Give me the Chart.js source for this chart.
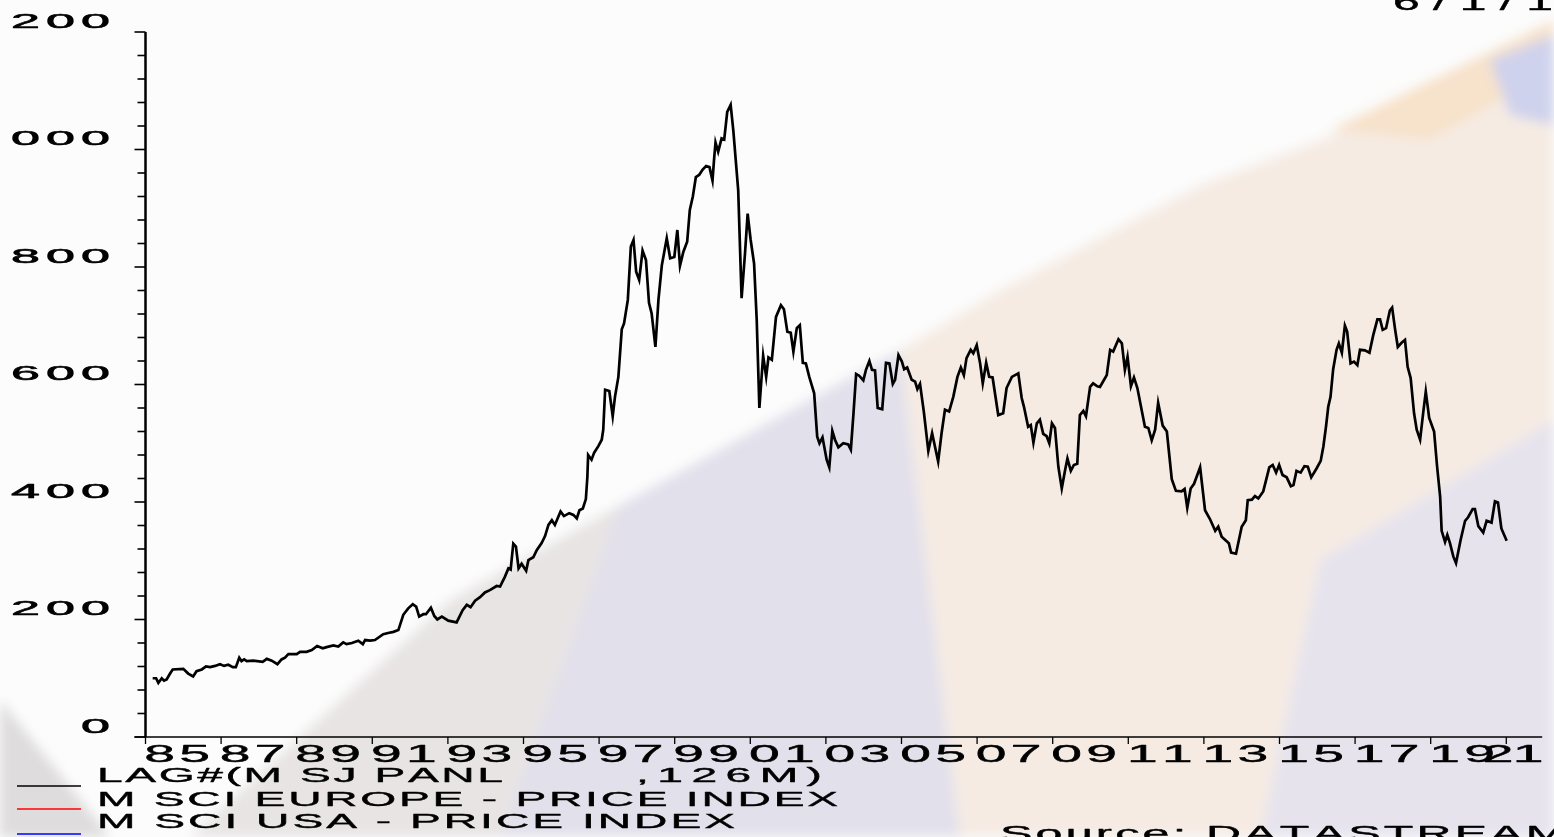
<!DOCTYPE html>
<html>
<head>
<meta charset="utf-8">
<script src="https://cdn.jsdelivr.net/npm/chart.js@4.4.1/dist/chart.umd.min.js"></script>
<style>
html,body{margin:0;padding:0;width:1554px;height:837px;overflow:hidden;background:#fcfcfc;}
#bg{position:absolute;left:0;top:0;}
#wrap{position:absolute;left:0;top:0;width:1554px;height:837px;}
</style>
</head>
<body>
<svg id="bg" width="1554" height="837" xmlns="http://www.w3.org/2000/svg">
<defs><filter id="b" x="-10%" y="-10%" width="120%" height="120%"><feGaussianBlur stdDeviation="6"/></filter></defs>
<rect width="1554" height="837" fill="#fcfcfc"/>
<g filter="url(#b)">
<polygon points="0,700 110,837 0,837" fill="#dedcdd"/>
<polygon points="190,837 450,600 620,505 520,837" fill="#e8e4e4"/>
<polygon points="500,837 620,505 800,405 900,350 960,837" fill="#e2e0eb"/>
<polygon points="900,350 1000,290 1200,185 1400,110 1554,40 1554,420 1320,560 1260,837 960,837" fill="#f5ebe3"/>
<polygon points="1320,560 1554,420 1554,837 1260,837" fill="#e6e3ed"/>
<polygon points="1330,130 1554,20 1554,70 1430,140" fill="#f7e2cb"/>
<polygon points="1490,60 1554,35 1554,125 1510,115" fill="#cfd2ec"/>
</g>
</svg>
<div id="wrap"><canvas id="c" width="1554" height="837"></canvas></div>
<script>
// ---- data ----
const dates = [1985.19,1985.28,1985.34,1985.43,1985.49,1985.56,1985.65,1985.72,1986.00,1986.13,1986.26,1986.35,1986.49,1986.60,1986.71,1986.84,1986.97,1987.08,1987.19,1987.31,1987.39,1987.48,1987.54,1987.61,1987.68,1987.85,1988.10,1988.21,1988.34,1988.49,1988.60,1988.69,1988.78,1989.00,1989.09,1989.26,1989.40,1989.54,1989.69,1989.79,1989.97,1990.10,1990.23,1990.32,1990.46,1990.63,1990.75,1990.81,1990.94,1991.07,1991.29,1991.42,1991.56,1991.69,1991.82,1991.95,1992.07,1992.16,1992.24,1992.35,1992.42,1992.55,1992.64,1992.72,1992.84,1993.01,1993.23,1993.39,1993.50,1993.60,1993.72,1993.85,1993.98,1994.11,1994.29,1994.38,1994.51,1994.60,1994.66,1994.73,1994.80,1994.87,1994.95,1995.07,1995.13,1995.26,1995.35,1995.48,1995.57,1995.66,1995.75,1995.83,1995.98,1996.07,1996.21,1996.32,1996.41,1996.48,1996.57,1996.65,1996.69,1996.71,1996.80,1996.87,1996.98,1997.07,1997.11,1997.16,1997.27,1997.36,1997.42,1997.51,1997.60,1997.66,1997.76,1997.84,1997.91,1997.98,1998.06,1998.15,1998.24,1998.32,1998.39,1998.49,1998.57,1998.66,1998.79,1998.88,1998.99,1999.07,1999.14,1999.23,1999.33,1999.40,1999.48,1999.56,1999.65,1999.74,1999.83,1999.92,2000.00,2000.04,2000.08,2000.15,2000.24,2000.31,2000.39,2000.48,2000.55,2000.68,2000.77,2000.86,2000.93,2001.01,2001.10,2001.17,2001.24,2001.34,2001.42,2001.48,2001.57,2001.68,2001.81,2001.89,2001.98,2002.07,2002.14,2002.23,2002.31,2002.39,2002.47,2002.56,2002.69,2002.77,2002.83,2002.91,2003.02,2003.09,2003.17,2003.24,2003.33,2003.46,2003.59,2003.66,2003.73,2003.80,2003.88,2003.99,2004.06,2004.15,2004.22,2004.30,2004.37,2004.49,2004.59,2004.68,2004.77,2004.83,2004.92,2005.01,2005.07,2005.15,2005.27,2005.36,2005.42,2005.49,2005.59,2005.71,2005.81,2005.97,2006.06,2006.15,2006.26,2006.37,2006.48,2006.57,2006.65,2006.72,2006.83,2006.90,2006.99,2007.08,2007.15,2007.24,2007.32,2007.41,2007.56,2007.69,2007.78,2007.92,2008.09,2008.18,2008.24,2008.35,2008.42,2008.49,2008.58,2008.66,2008.75,2008.84,2008.91,2008.98,2009.06,2009.15,2009.24,2009.33,2009.39,2009.48,2009.56,2009.65,2009.72,2009.81,2009.88,2009.99,2010.07,2010.18,2010.25,2010.36,2010.43,2010.52,2010.60,2010.74,2010.83,2010.91,2010.98,2011.07,2011.15,2011.24,2011.44,2011.53,2011.62,2011.71,2011.79,2011.91,2012.02,2012.15,2012.26,2012.41,2012.49,2012.56,2012.65,2012.74,2012.90,2013.03,2013.16,2013.30,2013.38,2013.47,2013.66,2013.72,2013.85,2014.00,2014.11,2014.16,2014.27,2014.35,2014.44,2014.57,2014.73,2014.82,2014.91,2014.99,2015.08,2015.19,2015.30,2015.37,2015.45,2015.56,2015.66,2015.75,2015.84,2015.98,2016.09,2016.16,2016.23,2016.29,2016.35,2016.42,2016.51,2016.57,2016.65,2016.73,2016.79,2016.88,2016.97,2017.06,2017.13,2017.26,2017.38,2017.48,2017.59,2017.66,2017.73,2017.82,2017.92,2017.98,2018.06,2018.13,2018.23,2018.32,2018.39,2018.47,2018.56,2018.63,2018.72,2018.80,2018.87,2018.96,2019.09,2019.17,2019.25,2019.29,2019.38,2019.44,2019.51,2019.60,2019.67,2019.79,2019.91,2019.99,2020.11,2020.17,2020.26,2020.39,2020.48,2020.61,2020.70,2020.78,2020.87,2021.01];
const japanLag126 = [100,100,92,100,96,98,108,115,116,108,103,112,115,120,119,121,124,121,123,119,119,135,129,132,129,130,128,133,130,124,132,135,141,141,145,145,148,155,151,153,156,154,161,158,160,164,158,165,164,165,175,177,179,182,208,219,226,222,205,209,209,220,206,200,205,198,195,216,225,221,232,238,246,250,257,256,273,287,285,329,324,287,295,283,301,306,318,330,342,361,369,361,384,376,381,378,372,386,389,405,443,480,472,484,495,506,523,591,589,546,579,613,694,704,744,835,846,792,778,828,812,739,721,664,744,803,849,815,817,863,802,826,843,897,920,953,957,966,972,970,947,982,1012,996,1019,1017,1064,1076,1033,931,747,823,891,846,806,710,560,649,613,646,642,715,735,728,690,688,656,696,701,637,636,613,585,511,500,510,472,459,521,506,493,500,498,489,551,618,615,607,625,640,625,624,560,558,637,636,601,608,650,639,626,629,608,605,592,601,554,487,517,469,517,557,554,579,613,629,616,645,659,653,667,636,602,637,613,612,548,551,594,613,619,577,562,528,531,501,534,540,516,512,500,534,526,460,423,455,474,453,463,465,548,555,546,596,602,597,596,608,616,659,656,677,670,625,647,597,612,594,528,526,505,523,569,530,520,439,419,418,422,390,423,431,459,386,371,351,358,341,330,314,312,358,369,403,404,410,406,418,459,463,450,463,446,442,427,429,453,450,461,460,442,457,470,494,528,562,579,626,659,670,654,700,690,636,639,633,659,658,654,684,711,711,693,696,726,731,693,664,671,676,630,611,551,523,506,551,588,543,520,460,409,351,332,344,330,307,296,335,368,374,388,388,359,348,368,365,401,399,355,334];
const europeValues = [];
const usaValues = [];
const xTickYears = [1985,1987,1989,1991,1993,1995,1997,1999,2001,2003,2005,2007,2009,2011,2013,2015,2017,2019,2021];
const xTickLabels = ["85","87","89","91","93","95","97","99","01","03","05","07","09","11","13","15","17","19","21"];
const yTickValues = [0,200,400,600,800,1000,1200];
const yTickLabels = ["0","200","400","600","800","1000","1200"];
const seriesLabels = ["LAG#(M SJ PANL       ,126M)","M SCI EUROPE - PRICE INDEX","M SCI USA - PRICE INDEX"];
const seriesColors = ["#000000","#ff0000","#0000ff"];
const sourceText = "Source: DATASTREAM";
const dateText = "6/1/11";

const FONT = '"Liberation Sans", Arial, sans-serif';

function drawCells(ctx, text, firstCenter, pitch, baseline, size, sx, sw){
  ctx.save();
  ctx.font = size + 'px ' + FONT;
  ctx.textAlign = 'center';
  ctx.textBaseline = 'alphabetic';
  ctx.lineWidth = sw || 0;
  ctx.lineJoin = 'round';
  for (let i=0;i<text.length;i++){
    ctx.save();
    ctx.translate(firstCenter + i*pitch, baseline);
    ctx.scale(sx,1);
    ctx.fillText(text[i],0,0);
    if (sw) ctx.strokeText(text[i],0,0);
    ctx.restore();
  }
  ctx.restore();
}
function drawFit(ctx, text, x, baseline, size, sx, width, sw){
  ctx.save();
  ctx.font = size + 'px ' + FONT;
  ctx.textAlign = 'left';
  ctx.textBaseline = 'alphabetic';
  ctx.lineWidth = sw || 0;
  ctx.lineJoin = 'round';
  const ws = [...text].map(c => ctx.measureText(c).width*sx);
  const total = ws.reduce((a,b)=>a+b,0);
  const extra = text.length>1 ? (width-total)/(text.length-1) : 0;
  let cx = x;
  for (let i=0;i<text.length;i++){
    ctx.save();
    ctx.translate(cx, baseline);
    ctx.scale(sx,1);
    ctx.fillText(text[i],0,0);
    if (sw) ctx.strokeText(text[i],0,0);
    ctx.restore();
    cx += ws[i] + extra;
  }
  ctx.restore();
}

const axesPlugin = {
  id:'dsAxes',
  afterDatasetsDraw(chart){
    const ctx = chart.ctx;
    const xs = chart.scales.x, ys = chart.scales.y;
    const a = chart.chartArea;
    ctx.save();
    ctx.fillStyle = '#000';
    ctx.strokeStyle = '#000';
    // y axis
    ctx.lineWidth = 2.5;
    ctx.beginPath(); ctx.moveTo(a.left, a.top); ctx.lineTo(a.left, a.bottom); ctx.stroke();
    ctx.lineWidth = 1.6;
    for (let v=0; v<=1200; v+=40){
      const y = ys.getPixelForValue(v);
      const len = (v % 200 === 0) ? 11 : 8;
      ctx.beginPath(); ctx.moveTo(a.left - len, y); ctx.lineTo(a.left, y); ctx.stroke();
    }
    // x axis
    ctx.lineWidth = 1.6;
    ctx.beginPath(); ctx.moveTo(a.left - 11, a.bottom); ctx.lineTo(a.right, a.bottom); ctx.stroke();
    ctx.lineWidth = 1.3;
    xTickYears.forEach(yr => {
      const x = xs.getPixelForValue(yr);
      ctx.beginPath(); ctx.moveTo(x, a.bottom); ctx.lineTo(x, a.bottom + 7); ctx.stroke();
    });
    // y labels (left part clipped by the page edge, as in the original)
    ctx.save();
    ctx.beginPath(); ctx.rect(9, 0, a.left, chart.height); ctx.clip();
    yTickValues.forEach((v,i) => {
      const y = ys.getPixelForValue(v);
      const t = yTickLabels[i];
      const lastCenter = a.left - 50;
      drawCells(ctx, t, lastCenter - (t.length-1)*35, 35, y - 4.5, 20, 2.6, 0.6);
    });
    ctx.restore();
    // x labels
    xTickYears.forEach((yr,i) => {
      const x = xs.getPixelForValue(yr);
      const t = xTickLabels[i];
      let c0 = x + 14;
      let pitch = 35;
      if (c0 + (t.length-1)*pitch > a.right - 12){ pitch = 30; c0 = a.right - 14 - (t.length-1)*pitch; }
      drawCells(ctx, t, c0, pitch, a.bottom + 24.5, 23, 2.4, 0.4);
    });
    // legend
    const legendRows = [{line:786, base:782},{line:809, base:806},{line:834, base:828}];
    chart.data.datasets.forEach((ds,i) => {
      const r = legendRows[i];
      ctx.strokeStyle = ds.borderColor; ctx.lineWidth = 1.3;
      ctx.beginPath(); ctx.moveTo(17, r.line); ctx.lineTo(81, r.line); ctx.stroke();
      ctx.fillStyle = '#000'; ctx.strokeStyle = '#000';
      const parts = ds.label.split(/\s{3,}/);
      if (parts.length === 2){
        drawFit(ctx, parts[0], 97, r.base, 21, 2.2, 406, 0.4);
        drawFit(ctx, parts[1], 636, r.base, 21, 2.2, 186, 0.4);
      } else {
        const w = i === 1 ? 741 : 638;
        drawFit(ctx, ds.label, 97, r.base, 21, 2.2, w, 0.4);
      }
    });
    // source and date
    ctx.fillStyle = '#000'; ctx.strokeStyle = '#000';
    drawFit(ctx, sourceText, 1000, 841, 22, 2.2, 566, 0.4);
    drawFit(ctx, dateText, 1393, 10, 24, 2.0, 200, 0.4);
    ctx.restore();
  }
};

new Chart(document.getElementById('c'), {
  type:'line',
  data:{
    datasets:[
      {label:seriesLabels[0], data:dates.map((d,i)=>({x:d,y:japanLag126[i]})), borderColor:seriesColors[0], borderWidth:2.7, pointRadius:0, tension:0, fill:false},
      {label:seriesLabels[1], data:europeValues, borderColor:seriesColors[1], borderWidth:1.5, pointRadius:0},
      {label:seriesLabels[2], data:usaValues, borderColor:seriesColors[2], borderWidth:1.5, pointRadius:0}
    ]
  },
  options:{
    responsive:false,
    animation:false,
    devicePixelRatio:1,
    layout:{padding:{left:145.5, right:11.8, top:32, bottom:100}},
    plugins:{legend:{display:false}, tooltip:{enabled:false}},
    scales:{
      x:{type:'linear', min:1985, max:2021.95, display:false},
      y:{type:'linear', min:0, max:1200, display:false}
    }
  },
  plugins:[axesPlugin]
});
</script>
</body>
</html>
